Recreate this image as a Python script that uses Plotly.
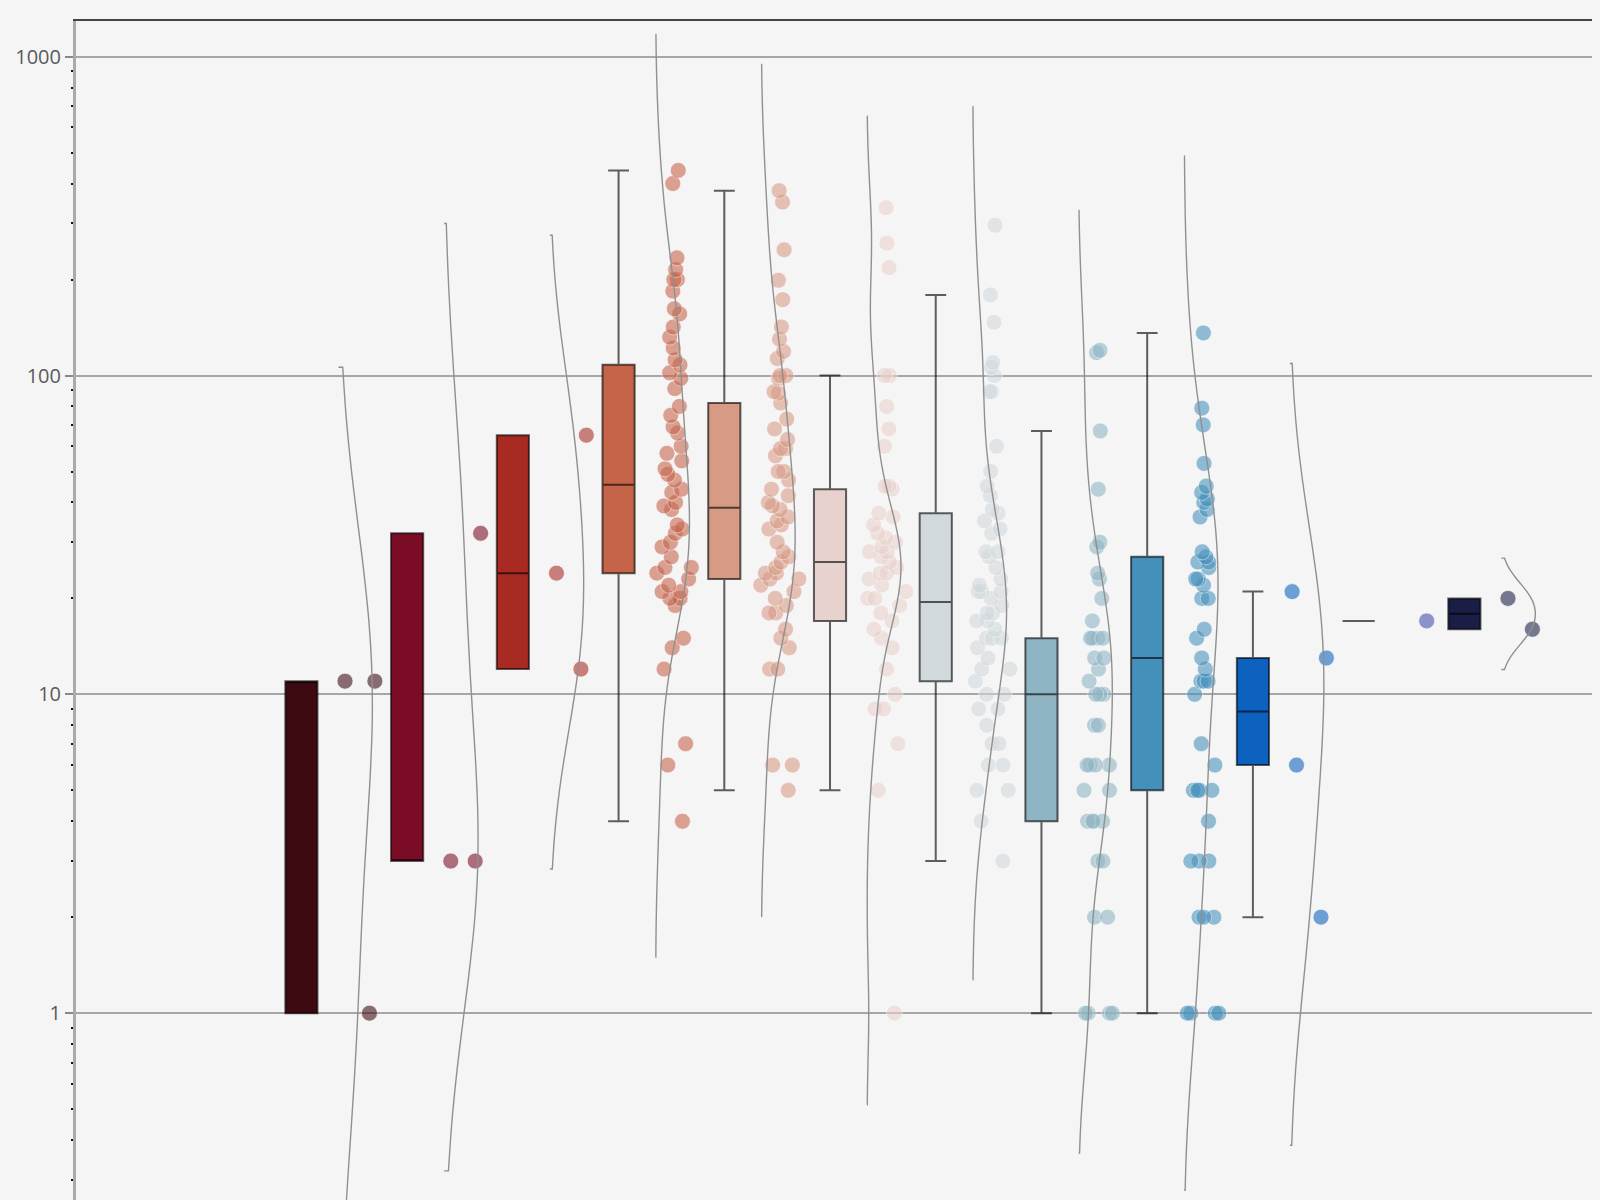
import numpy as np
import plotly.graph_objects as go

# ---- data (log-scaled y axis) ----
group_names = ["G1", "G2", "G3", "G4", "G5", "G6", "G7", "G8", "G9", "G10", "G11", "G12"]

g1 = [1, 11, 11]
g2 = [3, 3, 32]
g3 = [12, 24, 65]
g4 = [440, 400, 234, 215, 200, 200, 184, 162, 156, 142, 132, 122, 112, 108, 102, 98, 91,
      80, 75, 69, 66, 60, 57, 54, 51, 49, 47, 44, 43, 40, 39, 38, 34, 33, 32, 30, 29, 27,
      25, 25, 24, 23, 22, 21, 21, 20, 20, 19, 15, 14, 12, 7, 6, 4]
g5 = [380, 350, 248, 199, 173, 142, 130, 119, 113, 100, 100, 98, 89, 88, 82, 73, 68, 63,
      59, 59, 56, 50, 50, 47, 44, 42, 40, 39, 38, 36, 35, 34, 33, 30, 28, 27, 26, 25, 24,
      24, 23, 23, 22, 21, 20, 19, 18, 18, 16, 15, 14, 12, 12, 6, 6, 5]
g6 = [336, 260, 218, 100, 100, 80, 68, 60, 45, 45, 44, 37, 36, 34, 32, 31, 30, 29, 28, 28,
      27, 26, 25, 24, 24, 23, 22, 21, 20, 20, 19, 18, 17, 16, 15, 14, 12, 10, 9, 9, 7, 5, 1]
g7 = [296, 179, 147, 110, 106, 100, 89, 89, 60, 50, 45, 42, 38, 37, 35, 33, 32, 28, 28, 27,
      25, 23, 22, 21, 21, 21, 20, 19, 18, 18, 17, 17, 16, 15, 15, 15, 14, 13, 12, 12, 11,
      10, 10, 9, 9, 8, 7, 7, 6, 6, 5, 5, 4, 3]
g8 = [120, 118, 67, 44, 30, 29, 24, 23, 20, 17, 15, 15, 15, 15, 13, 13, 12, 11, 10, 10, 10,
      8, 8, 6, 6, 6, 6, 5, 5, 4, 4, 4, 4, 3, 3, 2, 2, 1, 1, 1, 1]
g9 = [136, 79, 70, 53, 45, 43, 41, 40, 38, 36, 28, 27, 26, 26, 25, 23, 23, 22, 20, 20, 16,
      15, 13, 12, 11, 11, 11, 10, 7, 6, 5, 5, 5, 5, 4, 3, 3, 3, 2, 2, 2, 1, 1, 1, 1]
g10 = [21, 13, 6, 2]
g11 = [17]
g12 = [20, 16]

groups = [g1, g2, g3, g4, g5, g6, g7, g8, g9, g10, g11, g12]

box_colors = ["#3d0a12", "#7b0c26", "#a82a22", "#c6644a", "#d79a85", "#e8d2cd",
              "#d1d9dc", "#8fb5c4", "#4590bb", "#0d62bf", "#3f4daa", "#1a1d45"]

y_tick_vals = [1, 10, 100, 1000]
y_tick_text = ["1", "10", "100", "1000"]
minor_tick_vals = [k * 10.0 ** d for d in range(-1, 4) for k in range(2, 10)]

Y_RANGE_LOG = [-0.586, 3.112]
X_RANGE = [-2.132, 12.283]
BOX_W = 0.304
POINT_W = 0.40
POINT_SHIFT = 0.54
VIOLIN_SHIFT = 0.35
BG = "#f5f5f5"


def box_stats(vals):
    lv = np.sort(np.log10(np.asarray(vals, dtype=float)))
    q1 = np.percentile(lv, 25, method="nearest")
    q3 = np.percentile(lv, 75, method="nearest")
    med = np.median(lv)
    iqr = q3 - q1
    lo = lv[lv >= q1 - 1.5 * iqr].min()
    hi = lv[lv <= q3 + 1.5 * iqr].max()
    return [10 ** v for v in (lo, q1, med, q3, hi)]


fig = go.Figure()

# boxes (stats computed in log space)
for i, (vals, col) in enumerate(zip(groups, box_colors)):
    lo, q1, med, q3, hi = box_stats(vals)
    fig.add_trace(go.Box(
        x=[i], q1=[q1], median=[med], q3=[q3], lowerfence=[lo], upperfence=[hi],
        width=BOX_W, fillcolor=col, whiskerwidth=0.65,
        line=dict(color="rgba(0,0,0,0.62)", width=2),
        boxpoints=False, hoverinfo="skip", name=group_names[i],
    ))

# jittered points
for i, (vals, col) in enumerate(zip(groups, box_colors)):
    fig.add_trace(go.Box(
        x=[i + POINT_SHIFT] * len(vals), y=vals, width=POINT_W,
        boxpoints="all", jitter=1.0, pointpos=0,
        fillcolor="rgba(0,0,0,0)", line=dict(color="rgba(0,0,0,0)", width=0),
        marker=dict(color=col, size=16, opacity=0.58,
                    line=dict(color="rgba(255,255,255,0.7)", width=1)),
        hoverinfo="skip", name=group_names[i],
    ))

# half violins (density in log space)
for i, vals in enumerate(groups):
    if len(vals) < 2:
        continue
    fig.add_trace(go.Violin(
        x=[i + VIOLIN_SHIFT] * len(vals), y=np.log10(vals), yaxis="y2",
        side="positive", width=0.64, scalemode="width", spanmode="soft",
        points=False, box_visible=False, meanline_visible=False,
        fillcolor="rgba(0,0,0,0)", line=dict(color="#909090", width=1.4),
        hoverinfo="skip", name=group_names[i],
    ))

fig.update_layout(
    width=1592, height=1192,
    paper_bgcolor=BG, plot_bgcolor=BG,
    margin=dict(l=67.5, r=0, t=13.4, b=0),
    showlegend=False,
    font=dict(family="Open Sans, Lato, sans-serif", size=20, color="#5a5a5a"),
    xaxis=dict(range=X_RANGE, showgrid=False, zeroline=False, showticklabels=False,
               ticks="", side="top", showline=True, linecolor="#444444", linewidth=1.5),
    yaxis=dict(type="log", range=Y_RANGE_LOG, tickmode="array",
               tickvals=y_tick_vals, ticktext=y_tick_text, automargin=False,
               showgrid=True, gridcolor="#a6a6a6", gridwidth=2, zeroline=False,
               showline=True, linecolor="#aaaaaa", linewidth=3,
               ticks="outside", ticklen=8, tickwidth=1.5, tickcolor="#888888",
               tickfont=dict(size=20, color="#5a5a5a"),
               minor=dict(tickmode="array", tickvals=minor_tick_vals, ticks="outside",
                          ticklen=2, tickwidth=2, tickcolor="#111111", showgrid=False)),
    yaxis2=dict(overlaying="y", range=Y_RANGE_LOG, visible=False, type="linear"),
)

fig.write_html("out.html", post_script="document.body.style.background='%s';" % BG)
